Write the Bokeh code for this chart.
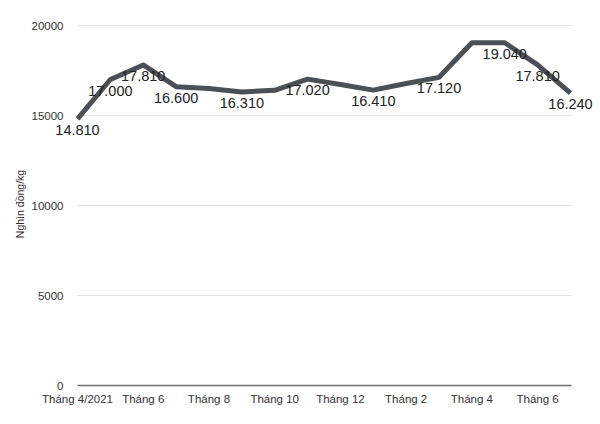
from bokeh.plotting import figure
from bokeh.models import ColumnDataSource, LabelSet, Range1d, FixedTicker
from bokeh.core.properties import value
from bokeh.embed import file_html
from bokeh.resources import INLINE

months = ["Tháng 4/2021", "Tháng 5", "Tháng 6", "Tháng 7", "Tháng 8", "Tháng 9",
          "Tháng 10", "Tháng 11", "Tháng 12", "Tháng 1", "Tháng 2", "Tháng 3",
          "Tháng 4", "Tháng 5", "Tháng 6", "Tháng 7"]
prices = [14810, 17000, 17810, 16600, 16500, 16310, 16400, 17020,
          16720, 16410, 16780, 17120, 19040, 19040, 17810, 16240]
labeled = [0, 1, 2, 3, 5, 7, 9, 11, 13, 14, 15]
y_ticks = [0, 5000, 10000, 15000, 20000]
x_label_every = 2

FONT = "Liberation Sans"

n = len(months)
xs = list(range(n))
src = ColumnDataSource(dict(x=xs, y=prices))
lab_src = ColumnDataSource(dict(
    x=[xs[i] for i in labeled],
    y=[prices[i] for i in labeled],
    t=[f"{prices[i]:,}".replace(",", ".") for i in labeled],
))

# layout (pixels): data spans x 77..570 and y 385 (0) .. 25 (20000); the frame is larger
# so that labels near the edges are not clipped.
FRAME_L, FRAME_R, FRAME_T, FRAME_B = 28, 600, 15, 392
DATA_L, DATA_R, DATA_B, DATA_T = 77, 570, 385, 25
ppu = (DATA_R - DATA_L) / (n - 1)
x0 = -(DATA_L - FRAME_L) / ppu
x1 = (n - 1) + (FRAME_R - DATA_R) / ppu
ypp = (y_ticks[-1] - y_ticks[0]) / (DATA_B - DATA_T)
y0 = y_ticks[0] - (FRAME_B - DATA_B) * ypp
y1 = y_ticks[-1] + (DATA_T - FRAME_T) * ypp

p = figure(width=600, height=424, output_backend="svg", toolbar_location=None,
           min_border_left=FRAME_L, min_border_right=600 - FRAME_R,
           min_border_top=FRAME_T, min_border_bottom=424 - FRAME_B)
p.x_range = Range1d(x0, x1)
p.y_range = Range1d(y0, y1)
p.outline_line_color = None
p.background_fill_color = "white"
p.border_fill_color = "white"

# gridlines (only across the data span)
grid_end = (n - 1) + 1.0 / ppu
g_ticks = [t for t in y_ticks if t > 0]
p.segment(x0=[0] * len(g_ticks), x1=[grid_end] * len(g_ticks), y0=g_ticks, y1=g_ticks,
          line_color="#e3e3e3", line_width=1)
p.segment(x0=[0], x1=[grid_end], y0=[0], y1=[0], line_color="#6e6e6e", line_width=1.5)

# y tick labels
p.text(x=[0] * len(y_ticks), y=y_ticks, text=[str(t) for t in y_ticks],
       x_offset=-14, text_align="right", text_baseline="middle",
       text_font=value(FONT), text_font_size="11.5px", text_color="#333333")

p.line("x", "y", source=src, line_color="#4b5056", line_width=5, line_join="round")

labels = LabelSet(x="x", y="y", text="t", source=lab_src, text_align="center",
                  text_baseline="middle", y_offset=-11, text_font_size="14.5px",
                  text_color="#222222", text_font=value(FONT))
p.add_layout(labels)

# x axis
tick_pos = list(range(0, n, x_label_every))
p.xaxis.ticker = FixedTicker(ticks=tick_pos)
p.xaxis.major_label_overrides = {i: months[i] for i in tick_pos}
p.xaxis.major_tick_line_color = None
p.xaxis.minor_tick_line_color = None
p.xaxis.major_tick_out = 0
p.xaxis.minor_tick_out = 0
p.xaxis.major_tick_in = 0
p.xaxis.axis_line_color = None
p.xaxis.major_label_text_font = FONT
p.xaxis.major_label_text_font_size = "11.5px"
p.xaxis.major_label_text_color = "#333333"
p.xaxis.major_label_standoff = 0
p.xgrid.grid_line_color = None
p.ygrid.grid_line_color = None

# y axis: only its title
p.yaxis.ticker = FixedTicker(ticks=[])
p.yaxis.major_tick_line_color = None
p.yaxis.minor_tick_line_color = None
p.yaxis.major_tick_out = 0
p.yaxis.minor_tick_out = 0
p.yaxis.axis_line_color = None
p.yaxis.axis_label = "Nghìn đồng/kg"
p.yaxis.axis_label_text_font = FONT
p.yaxis.axis_label_text_font_size = "10.5px"
p.yaxis.axis_label_text_font_style = "normal"
p.yaxis.axis_label_text_color = "#333333"
p.yaxis.axis_label_standoff = 3

open("out.html", "w").write(file_html(p, INLINE))
